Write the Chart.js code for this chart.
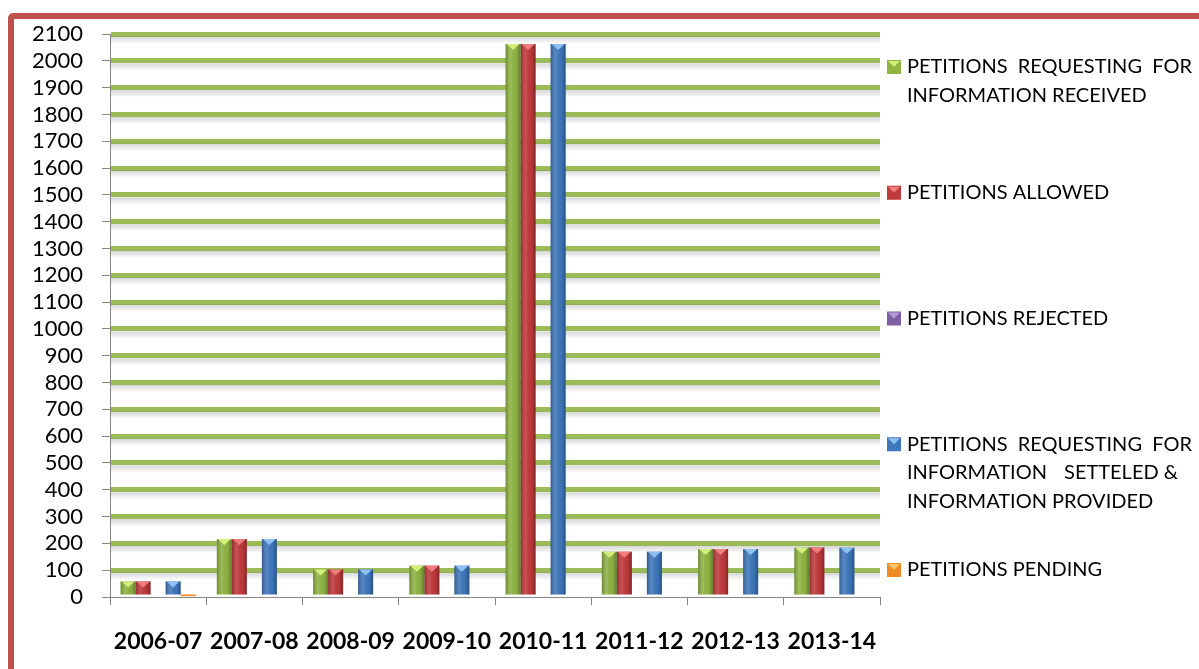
<!DOCTYPE html>
<html lang="en">
<head>
<meta charset="UTF-8">
<title>Petitions</title>
<script src="https://cdn.jsdelivr.net/npm/chart.js@4.4.0/dist/chart.umd.min.js"></script>
<style>
body{margin:0;background:#fff;overflow:hidden;}
#wrap{position:relative;width:1199px;height:669px;overflow:hidden;}
#frame{position:absolute;left:8px;top:13px;width:1230px;height:720px;border:6px solid #C0504D;border-radius:5px;box-sizing:border-box;}
#c{position:absolute;left:0;top:0;}
</style>
</head>
<body>
<div id="wrap"><div id="frame"></div><canvas id="c" width="1199" height="669"></canvas></div>
<script>
const years = ["2006-07","2007-08","2008-09","2009-10","2010-11","2011-12","2012-13","2013-14"];
const received = [58, 216, 103, 117, 2063, 169, 179, 184];
const allowed  = [58, 216, 103, 117, 2063, 169, 179, 185];
const rejected = [0, 0, 0, 0, 0, 0, 0, 0];
const settled  = [58, 216, 103, 117, 2063, 169, 179, 184];
const pending  = [3, 0, 0, 0, 0, 0, 0, 0];
const yMax = 2100, yStep = 100;

// legend text as it's broken in the picture
const legendLines = [
  ["PETITIONS  REQUESTING  FOR", "INFORMATION RECEIVED"],
  ["PETITIONS ALLOWED"],
  ["PETITIONS  REJECTED"],
  ["PETITIONS  REQUESTING  FOR", "INFORMATION   SETTELED &", "INFORMATION PROVIDED"],
  ["PETITIONS  PENDING"]
];
const colors = ["#8FB442", "#C0393B", "#7E5FA6", "#3F77BC", "#F08A24"];
const lighter = ["#D4EE7A", "#F07E7E", "#B49CD6", "#8EC0F2", "#FFC36A"];

// justify width for wrapped lines (0 = normal)
const justifyW = [[285, 0], [0], [0], [285, 271, 0], [0]];

function drawLine(g, text, x, y, w){
  if(!w){ g.fillText(text.replace(/\s+/g, ' '), x, y); return; }
  const words = text.split(/\s{2,}/);
  let sum = 0;
  words.forEach(t => sum += g.measureText(t).width);
  const gap = (w - sum) / (words.length - 1);
  let cx = x;
  words.forEach(t => { g.fillText(t, cx, y); cx += g.measureText(t).width + gap; });
}

const gridShadow = {
  id: 'gridShadow',
  beforeDatasetsDraw(chart){
    const g = chart.ctx, a = chart.chartArea, s = chart.scales.y;
    g.save();
    for(let v = yStep; v <= yMax; v += yStep){
      const y = s.getPixelForValue(v);
      const gr = g.createLinearGradient(0, y + 2.5, 0, y + 10);
      gr.addColorStop(0, 'rgba(0,0,0,0.16)');
      gr.addColorStop(1, 'rgba(0,0,0,0)');
      g.fillStyle = gr;
      g.fillRect(a.left + 1, y + 2.5, a.right - a.left - 1, 7.5);
    }
    g.restore();
  }
};

const bevel = {
  id: 'bevel',
  afterDatasetsDraw(chart){
    const g = chart.ctx;
    g.save();
    chart.data.datasets.forEach((ds, i) => {
      chart.getDatasetMeta(i).data.forEach(bar => {
        const h = bar.base - bar.y;
        if(h < 2) return;
        const l = bar.x - bar.width / 2, w = bar.width;
        const gr = g.createLinearGradient(l, 0, l + w, 0);
        gr.addColorStop(0, 'rgba(0,0,0,0.25)');
        gr.addColorStop(0.35, 'rgba(255,255,255,0.12)');
        gr.addColorStop(0.7, 'rgba(0,0,0,0.02)');
        gr.addColorStop(1, 'rgba(0,0,0,0.3)');
        g.fillStyle = gr;
        g.fillRect(l, bar.y, w, h);
        g.fillStyle = lighter[i];
        g.beginPath();
        g.moveTo(l + 1, bar.y);
        g.lineTo(l + w - 1, bar.y);
        g.lineTo(bar.x, bar.y + 6);
        g.closePath();
        g.fill();
      });
    });
    g.restore();
  }
};

const sideLegend = {
  id: 'sideLegend',
  afterDraw(chart){
    const g = chart.ctx;
    g.save();
    g.font = '20px Lato';
    g.textBaseline = 'middle';
    legendLines.forEach((lines, i) => {
      const cy = 67 + 125.75 * i;
      g.fillStyle = colors[i];
      g.fillRect(887, cy - 7, 14, 14);
      g.fillStyle = lighter[i];
      g.beginPath();
      g.moveTo(888, cy - 6); g.lineTo(900, cy - 6); g.lineTo(894, cy);
      g.closePath(); g.fill();
      g.fillStyle = '#000';
      lines.forEach((t, j) => drawLine(g, t, 907, cy + 28.5 * j, justifyW[i][j]));
    });
    g.restore();
  }
};

new Chart(document.getElementById('c'), {
  type: 'bar',
  data: {
    labels: years,
    datasets: [
      {label: legendLines[0].join(' '), data: received, backgroundColor: colors[0]},
      {label: legendLines[1].join(' '), data: allowed, backgroundColor: colors[1]},
      {label: legendLines[2].join(' '), data: rejected, backgroundColor: colors[2]},
      {label: legendLines[3].join(' '), data: settled, backgroundColor: colors[3]},
      {label: legendLines[4].join(' '), data: pending, backgroundColor: colors[4]}
    ]
  },
  options: {
    responsive: false,
    animation: false,
    layout: {padding: {left: 20, top: 34, right: 319, bottom: 0}},
    datasets: {bar: {categoryPercentage: 0.78, barPercentage: 1}},
    plugins: {legend: {display: false}, tooltip: {enabled: false}},
    scales: {
      x: {
        grid: {drawOnChartArea: false, offset: true, tickLength: 8, tickColor: '#868686'},
        border: {color: '#868686'},
        ticks: {font: {family: 'Lato', size: 23, weight: 'bold'}, color: '#000', padding: 23, maxRotation: 0},
        afterFit(s){ s.height = 72; }
      },
      y: {
        min: 0, max: yMax,
        ticks: {stepSize: yStep, autoSkip: false, font: {family: 'Lato', size: 22}, color: '#000', padding: 19,
                callback: v => String(v)},
        grid: {
          color: c => c.index === 0 ? 'rgba(0,0,0,0)' : '#9BBB59',
          lineWidth: 5, tickLength: 8, tickColor: '#868686', tickWidth: 1
        },
        border: {color: '#868686'},
        afterFit(s){ s.width = 90; }
      }
    }
  },
  plugins: [gridShadow, bevel, sideLegend]
});
</script>
</body>
</html>
